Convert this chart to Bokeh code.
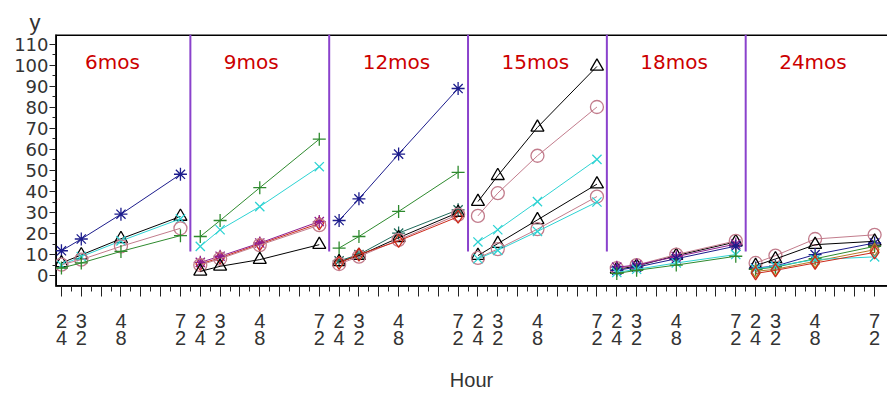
from bokeh.plotting import figure
from bokeh.models import Range1d, FixedTicker, LinearAxis, ColumnDataSource
from bokeh.core.properties import value
from bokeh.embed import file_html
from bokeh.resources import INLINE

# ---------------- data ----------------
hours = [24, 32, 48, 72]
panels = ["6mos", "9mos", "12mos", "15mos", "18mos", "24mos"]
hour_top = {24: "2", 32: "3", 48: "4", 72: "7"}
hour_bottom = {24: "4", 32: "2", 48: "8", 72: "2"}
y_ticks = [0, 10, 20, 30, 40, 50, 60, 70, 80, 90, 100, 110]

mos6 = {
    "navy_star":   [11.8, 17.4, 29.2, 48.2],
    "black_tri":   [6.0, 9.8, 17.5, 28.1],
    "cyan_x":      [5.0, 9.0, 16.5, 27.0],
    "pink_circle": [5.2, 7.6, 13.9, 22.5],
    "green_plus":  [3.6, 6.0, 11.5, 19.0],
}
mos9 = {
    "green_plus":  [18.6, 26.2, 41.8, 64.9],
    "cyan_x":      [13.9, 21.8, 32.8, 51.8],
    "red_diamond": [5.5, 8.5, 15.0, 24.8],
    "purple_star": [6.3, 9.2, 15.5, 25.7],
    "pink_circle": [5.0, 8.0, 14.5, 24.0],
    "black_tri":   [2.0, 4.4, 7.6, 14.7],
}
mos12 = {
    "navy_star":   [26.2, 36.5, 57.8, 89.0],
    "green_plus":  [13.1, 18.6, 30.5, 49.1],
    "teal_star":   [7.0, 10.0, 20.2, 31.3],
    "black_tri":   [6.5, 9.5, 18.0, 30.0],
    "pink_circle": [5.5, 9.0, 17.0, 29.0],
    "red_diamond": [6.0, 10.0, 16.5, 28.0],
}
mos15 = {
    "black_tri":    [35.2, 47.5, 70.5, 99.5],
    "pink_circle":  [28.4, 39.2, 57.0, 80.2],
    "cyan_x":       [16.0, 21.8, 35.2, 55.3],
    "black_tri2":   [9.5, 15.2, 26.5, 43.5],
    "pink_circle2": [8.4, 12.6, 22.1, 37.6],
    "cyan_x2":      [8.0, 12.0, 21.0, 35.0],
}
mos18 = {
    "black_tri":   [3.0, 4.5, 9.5, 16.0],
    "pink_circle": [3.5, 5.0, 10.0, 16.5],
    "purple_star": [4.0, 5.0, 9.0, 15.0],
    "navy_star":   [2.5, 4.0, 8.0, 14.0],
    "cyan_x":      [1.5, 3.0, 6.0, 10.0],
    "green_plus":  [1.0, 2.5, 5.0, 9.2],
}
mos24 = {
    "pink_circle":   [6.0, 9.5, 17.4, 19.4],
    "black_tri":     [4.7, 7.9, 14.7, 16.3],
    "navy_star":     [3.6, 4.5, 10.0, 15.5],
    "green_plus":    [3.0, 4.0, 8.0, 13.9],
    "brown_diamond": [2.0, 3.0, 6.8, 12.3],
    "cyan_x":        [3.2, 4.5, 7.6, 8.9],
    "red_diamond":   [1.0, 2.5, 6.0, 11.0],
}
panel_data = [mos6, mos9, mos12, mos15, mos18, mos24]

# ---------------- styles ----------------
STYLE = {
    "navy_star":     ("asterisk", "#1c1c8c"),
    "purple_star":   ("asterisk", "#8e1e8e"),
    "teal_star":     ("asterisk", "#1f6a5a"),
    "green_plus":    ("cross", "#2e8a2e"),
    "cyan_x":        ("x", "#2ed3d3"),
    "cyan_x2":       ("x", "#2ed3d3"),
    "pink_circle":   ("circle", "#c27c8c"),
    "pink_circle2":  ("circle", "#c27c8c"),
    "black_tri":     ("triangle", "#000000"),
    "black_tri2":    ("triangle", "#000000"),
    "red_diamond":   ("diamond", "#cc2a1a"),
    "brown_diamond": ("diamond", "#b57a25"),
}

PANEL_W = 56
X0, X1 = 21.6, 357.2
Y0, Y1 = -5.2, 114.7
AX = "#222222"
TXT = "#333333"

p = figure(width=887, height=393, output_backend="svg", toolbar_location=None,
           x_range=Range1d(X0, X1), y_range=Range1d(Y0, Y1),
           min_border_left=55, min_border_right=0, min_border_top=34,
           min_border_bottom=106)
p.grid.visible = False
p.outline_line_color = None
p.background_fill_color = "white"

# frame edges (top, left, bottom) as thick lines
p.segment(x0=[X0, X0, X0], y0=[Y1, Y0, Y0], x1=[X1, X0, X1], y1=[Y1, Y1, Y0],
          line_color="black", line_width=3)

# panel separators
n = len(panels)
bounds = [PANEL_W * k + 76 for k in range(n - 1)]
p.segment(x0=bounds, y0=[11.5] * len(bounds), x1=bounds, y1=[Y1] * len(bounds),
          line_color="#8a42cc", line_width=2)

# series
for k, series in enumerate(panel_data):
    xs = [PANEL_W * k + h for h in hours]
    for key, vals in series.items():
        marker, color = STYLE[key]
        p.line(xs, vals, line_color=color, line_width=1)
        p.scatter(xs, vals, marker=marker, size=13, line_color=color,
                  fill_color=None, line_width=1.3)

# panel labels
lab_src = ColumnDataSource(dict(x=[PANEL_W * k + 33.5 for k in range(n)],
                                y=[101.5] * n, text=panels))
p.text(x="x", y="y", text="text", source=lab_src, text_align="left",
       text_baseline="middle", text_color="#cc0000", text_font_size="20px",
       text_font=value("DejaVu Sans"))

# x axes: ticks every 8 h, minor every 4 h
xt = list(range(24, PANEL_W * (n - 1) + 72 + 1, 8))
xm = [t + 4 for t in xt[:-1]]
top_ov, bot_ov = {}, {}
for k in range(n):
    for h in hours:
        top_ov[PANEL_W * k + h] = hour_top[h]
        bot_ov[PANEL_W * k + h] = hour_bottom[h]
for t in xt:
    top_ov.setdefault(t, "")
    bot_ov.setdefault(t, "")

xa = p.xaxis[0]
xa.ticker = FixedTicker(ticks=xt, minor_ticks=xm)
xa.major_label_overrides = top_ov
xa.major_tick_out = 10
xa.major_tick_in = 0
xa.minor_tick_out = 5
xa.minor_tick_in = 0
xa.major_label_standoff = 17
xa.major_label_text_font = "Liberation Sans"
xa.major_label_text_font_size = "20px"
xa.major_label_text_color = TXT
xa.axis_line_color = AX
xa.major_tick_line_color = AX
xa.minor_tick_line_color = AX

xb = LinearAxis(ticker=FixedTicker(ticks=xt, minor_ticks=[]),
                major_label_overrides=bot_ov,
                axis_line_color=None, major_tick_line_color=None,
                minor_tick_line_color=None, major_tick_out=0, major_tick_in=0,
                minor_tick_out=0, minor_tick_in=0, major_label_standoff=0,
                major_label_text_font="Liberation Sans",
                major_label_text_font_size="20px", major_label_text_color=TXT,
                axis_label="Hour", axis_label_text_font="Liberation Sans",
                axis_label_text_font_size="20px",
                axis_label_text_font_style="normal",
                axis_label_text_color=TXT, axis_label_standoff=21)
p.add_layout(xb, "below")

# y axis
ya = p.yaxis[0]
ya.ticker = FixedTicker(ticks=y_ticks,
                        minor_ticks=[v + 5 for v in y_ticks[:-1]])
ya.major_tick_out = 6
ya.major_tick_in = 0
ya.minor_tick_out = 3
ya.minor_tick_in = 0
ya.major_label_standoff = 1
ya.major_label_text_font = "DejaVu Sans"
ya.major_label_text_font_size = "18px"
ya.major_label_text_color = TXT
ya.axis_line_color = AX
ya.major_tick_line_color = AX
ya.minor_tick_line_color = AX

# "y" axis title at top-left
p.title.text = "y"
p.title.align = "left"
p.title.offset = -26
p.title.standoff = 0
p.title.text_font = "Liberation Sans"
p.title.text_font_size = "22px"
p.title.text_font_style = "normal"
p.title.text_color = TXT

open("out.html", "w").write(file_html(p, INLINE))
